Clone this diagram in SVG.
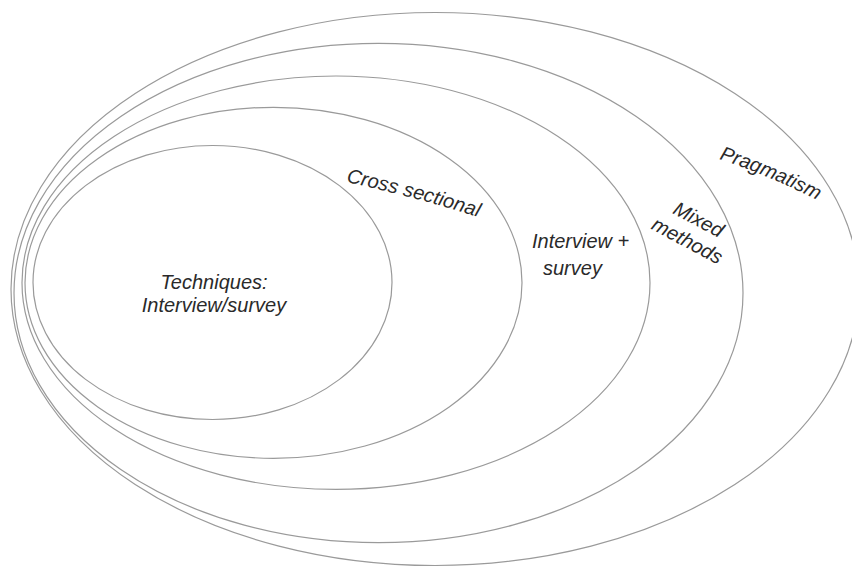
<svg xmlns="http://www.w3.org/2000/svg" width="852" height="567" viewBox="0 0 852 567">
  <style>
    .ring { fill: none; stroke: #9a9a9a; stroke-width: 1.2; }
    .label { font-family: "Liberation Sans", Arial, Helvetica, sans-serif; font-style: italic; font-size: 20px; fill: #2a2a2a; }
  </style>
  <defs>
    <path id="arc-cross" d="M346,182 Q411,195.8 477,216.7"/>
    <path id="arc-prag" d="M719,159 Q768,175 817,200"/>
  </defs>
  <rect width="852" height="567" fill="#ffffff"/>

  <!-- nested scopes, outermost first -->
  <g id="pragmatism">
    <ellipse class="ring" cx="435" cy="289" rx="424" ry="276.5"/>
    <text class="label"><textPath href="#arc-prag">Pragmatism</textPath></text>
  </g>

  <g id="mixed-methods">
    <ellipse class="ring" cx="378.5" cy="293" rx="364.5" ry="249.7"/>
    <g transform="translate(695.4,225.4) rotate(28)">
      <text class="label" text-anchor="middle" x="0" y="0">Mixed</text>
      <text class="label" text-anchor="middle" x="0" y="24">methods</text>
    </g>
  </g>

  <g id="interview-survey">
    <ellipse class="ring" cx="336" cy="282.7" rx="314" ry="206.7"/>
    <text class="label" x="532" y="248">Interview +</text>
    <text class="label" x="543" y="275">survey</text>
  </g>

  <g id="cross-sectional">
    <ellipse class="ring" cx="273.5" cy="282.8" rx="248.5" ry="175.5"/>
    <text class="label"><textPath href="#arc-cross">Cross sectional</textPath></text>
  </g>

  <g id="techniques">
    <ellipse class="ring" cx="212.5" cy="282.5" rx="179.5" ry="137"/>
    <text class="label" text-anchor="middle" x="214" y="289">Techniques:</text>
    <text class="label" text-anchor="middle" x="214" y="312">Interview/survey</text>
  </g>

  <g id="connectors"/>
</svg>
